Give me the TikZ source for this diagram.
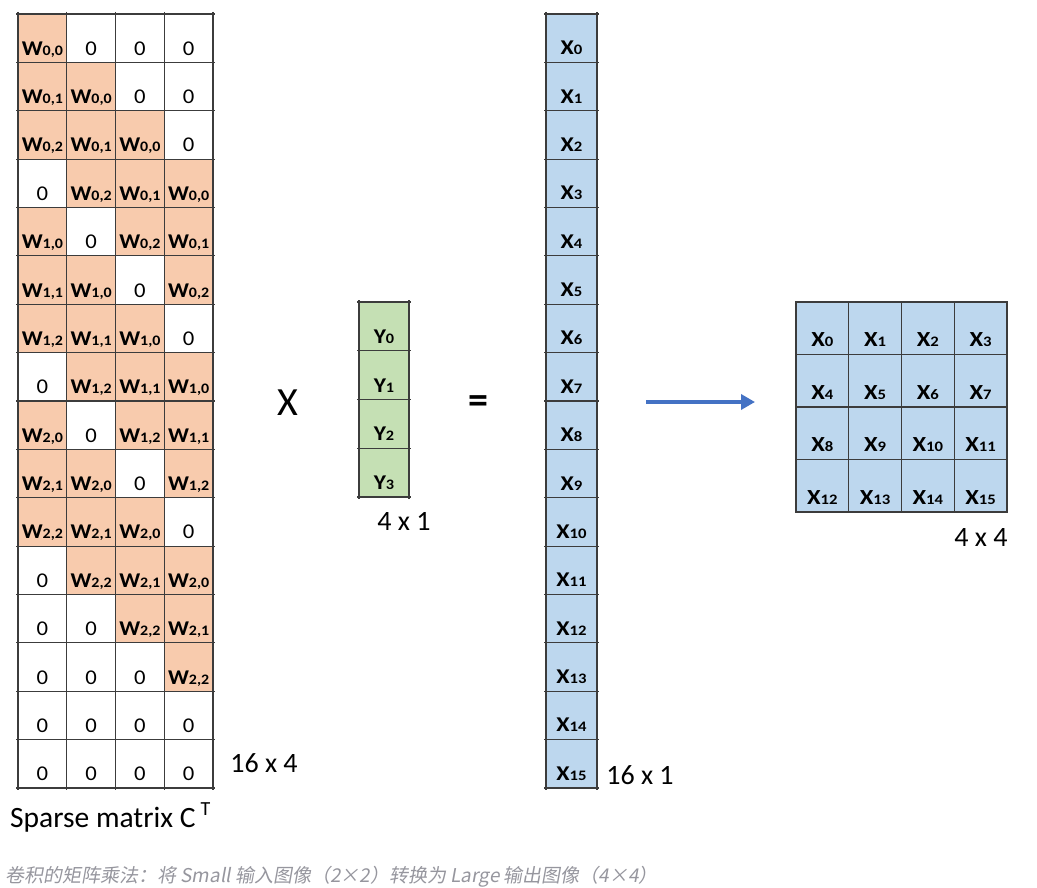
\documentclass[tikz,border=0pt]{standalone}
\usepackage{fontspec}
\setmainfont{Carlito}
\newfontfamily\cjkfont[FakeSlant=0.18]{Noto Sans CJK SC}
\usetikzlibrary{arrows.meta}
\definecolor{wfill}{RGB}{248,203,173}
\definecolor{yfill}{RGB}{197,224,180}
\definecolor{xfill}{RGB}{189,215,238}
\definecolor{gridc}{RGB}{60,60,60}
\definecolor{arrowc}{RGB}{68,114,196}
\definecolor{capc}{RGB}{150,150,158}
\newcommand\smallidx[1]{{\fontsize{14.5}{15}\selectfont #1}}
\newcommand\wlab[2]{\scalebox{1.1}[1]{W\smallidx{#1,#2}}}
\newcommand\xlab[1]{\scalebox{1.15}[1]{X\smallidx{#1}}}
\newcommand\ylab[1]{\scalebox{1.12}[1]{Y\smallidx{#1}}}
\newcommand\zlab{\scalebox{1.08}[1]{0}}
\tikzset{
  cellbox/.style={inner sep=0pt, outer sep=0pt, text height=34pt, text depth=0pt, font=\fontsize{21}{24}\selectfont\bfseries},
  mcell/.style={cellbox, minimum width=48.75pt, minimum height=48.375pt},
  wcell/.style={mcell, fill=wfill},
  zcell/.style={mcell, fill=white, font=\fontsize{21}{24}\selectfont},
  xcell/.style={cellbox, fill=xfill, minimum width=51pt, minimum height=48.375pt, text height=33pt},
  ycell/.style={cellbox, fill=yfill, minimum width=50pt, minimum height=48.75pt, text height=34pt},
  gcell/.style={cellbox, fill=xfill, minimum width=52.75pt, minimum height=52.5pt, text height=37pt, font=\fontsize{21.5}{24}\selectfont\bfseries},
  gridline/.style={draw=gridc, line width=1.1pt},
  dimlabel/.style={inner sep=0pt, font=\fontsize{28}{32}\selectfont},
  oplabel/.style={inner sep=0pt, font=\fontsize{40}{48}\selectfont},
}
\begin{document}
\begin{tikzpicture}[x=1pt,y=-1pt]
\useasboundingbox[fill=white] (0,0) rectangle (1037,888);
% sparse matrix
\foreach \r in {0,...,15} {
  \foreach \c in {0,...,3} {
    \pgfmathtruncatemacro\d{\r-\c}
    \pgfmathtruncatemacro\ii{floor((\d+16)/4)-4}
    \pgfmathtruncatemacro\jj{mod(\d+16,4)}
    \pgfmathtruncatemacro\nz{((\d>=0)&&(\d<12)&&(\jj<3)) ? 1 : 0}
    \ifnum\nz=1
      \node[wcell] (m-\r-\c) at (42.375+48.75*\c, 38.1875+48.375*\r) {\wlab{\ii}{\jj}};
    \else
      \node[zcell] (m-\r-\c) at (42.375+48.75*\c, 38.1875+48.375*\r) {\zlab};
    \fi
  }
}
\foreach \k in {0,...,16} \draw[gridline] (16,14+48.375*\k) -- (215,14+48.375*\k);
\foreach \k in {0,...,4} \draw[gridline] (18+48.75*\k,12) -- (18+48.75*\k,790);
% y vector
\foreach \r in {0,...,3} \node[ycell] (y-\r) at (384, 326.375+48.75*\r) {\ylab{\r}};
\foreach \k in {0,...,4} \draw[gridline] (357,302+48.75*\k) -- (411,302+48.75*\k);
\foreach \k in {0,1} \draw[gridline] (359+50*\k,300) -- (359+50*\k,499);
% x vector
\foreach \r in {0,...,15} \node[xcell] (x-\r) at (571.5, 38.1875+48.375*\r) {\xlab{\r}};
\foreach \k in {0,...,16} \draw[gridline] (544,14+48.375*\k) -- (599,14+48.375*\k);
\foreach \k in {0,1} \draw[gridline] (546+51*\k,12) -- (546+51*\k,790);
% 4x4 grid
\foreach \r in {0,...,3} \foreach \c in {0,...,3} {
  \pgfmathtruncatemacro\n{4*\r+\c}
  \node[gcell] (g-\r-\c) at (822.375+52.75*\c, 328.25+52.5*\r) {\xlab{\n}};
}
\foreach \k in {0,...,4} \draw[gridline] (795,302+52.5*\k) -- (1008,302+52.5*\k);
\foreach \k in {0,...,4} \draw[gridline] (796+52.75*\k,301) -- (796+52.75*\k,513);
% labels
\node[dimlabel] (d164) at (264,763) {16 x 4};
\node[dimlabel] (d161) at (640,775) {16 x 1};
\node[dimlabel] (d41) at (404,521) {4 x 1};
\node[dimlabel] (d44) at (981,538) {4 x 4};
\node[inner sep=0pt, anchor=base west, font=\fontsize{29.5}{32}\selectfont] (sp) at (10,827) {Sparse matrix C\kern5pt\raisebox{12pt}{\fontsize{20}{20}\selectfont T}};
\node[oplabel] (times) at (288,403) {X};
\node[oplabel, font=\fontsize{40}{48}\selectfont\bfseries] (eq) at (478,405) {=};
\coordinate (arrS) at (646,402);
\coordinate (arrE) at (755,402);
\draw[arrowc, line width=3.4pt, -{Triangle[length=14pt,width=15pt]}] (arrS) -- (arrE);
\node[inner sep=0pt, anchor=base west, text=capc, font=\cjkfont\fontsize{19}{22}\selectfont] (cap) at (5,882) {卷积的矩阵乘法：将 Small 输入图像（2×2）转换为 Large 输出图像（4×4）};
\end{tikzpicture}
\end{document}
